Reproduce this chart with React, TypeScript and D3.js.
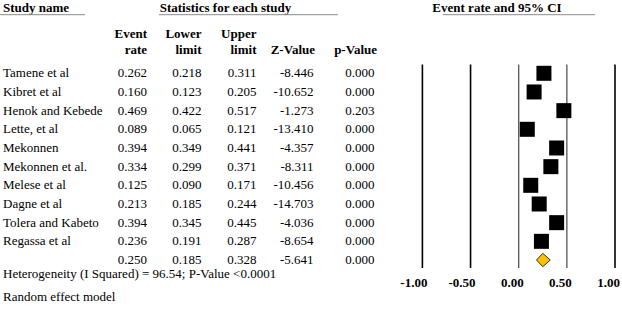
import React from "react";
import * as d3 from "d3";

const studies = [
  "Tamene et al",
  "Kibret et al",
  "Henok and Kebede",
  "Lette, et al",
  "Mekonnen",
  "Mekonnen et al.",
  "Melese et al",
  "Dagne et al",
  "Tolera and Kabeto",
  "Regassa et al",
];
const eventRate = [0.262, 0.16, 0.469, 0.089, 0.394, 0.334, 0.125, 0.213, 0.394, 0.236];
const lowerLimit = [0.218, 0.123, 0.422, 0.065, 0.349, 0.299, 0.09, 0.185, 0.345, 0.191];
const upperLimit = [0.311, 0.205, 0.517, 0.121, 0.441, 0.371, 0.171, 0.244, 0.445, 0.287];
const zValue = [-8.446, -10.652, -1.273, -13.41, -4.357, -8.311, -10.456, -14.703, -4.036, -8.654];
const pValue = [0.0, 0.0, 0.203, 0.0, 0.0, 0.0, 0.0, 0.0, 0.0, 0.0];

const summaryRate = 0.25;
const summaryLower = 0.185;
const summaryUpper = 0.328;
const summaryZ = -5.641;
const summaryP = 0.0;

const tickValues = [-1, -0.5, 0, 0.5, 1];
const heterogeneityText = "Heterogeneity (I Squared) = 96.54; P-Value <0.0001";
const modelText = "Random effect model";

const W = 622;
const H = 312;
const FONT = "Liberation Serif, Times New Roman, DejaVu Serif, serif";

const f3 = (v: number) => v.toFixed(3);
const f2 = (v: number) => v.toFixed(2);

export default function App() {
  const x = d3.scaleLinear().domain([-1, 1]).range([422.4, 615]);
  const rowY = d3.scaleLinear().domain([0, 1]).range([73.3, 73.3 + 18.67]);

  // column right edges
  const colRate = 147;
  const colLower = 201.5;
  const colUpper = 256.5;
  const colZ = 313.5;
  const colP = 374.5;

  const sq = 15;
  const nRows = studies.length;
  const sumY = rowY(nRows);

  const ts = { fontFamily: FONT, fontSize: "13px" };

  return (
    <svg
      width={W}
      height={H}
      style={{ position: "absolute", left: 0, top: 0, background: "#fff", fontFamily: FONT, fontSize: "13px" }}
    >
      {/* headers */}
      <g style={{ ...ts, fontWeight: "bold" }}>
        <text x={3} y={11.7}>Study name</text>
        <text x={225.5} y={11.7} textAnchor="middle">Statistics for each study</text>
        <text x={497} y={11.7} textAnchor="middle">Event rate and 95% CI</text>
      </g>
      <line x1={0} x2={85} y1={14.7} y2={14.7} stroke="#8c8c8c" strokeWidth={1} />
      <line x1={159} x2={338} y1={14.7} y2={14.7} stroke="#8c8c8c" strokeWidth={1} />
      <line x1={443} x2={595} y1={14.7} y2={14.7} stroke="#8c8c8c" strokeWidth={1} />

      <g style={{ ...ts, fontWeight: "bold" }} textAnchor="end">
        <text x={colRate} y={37.5}>Event</text>
        <text x={colRate} y={54}>rate</text>
        <text x={colLower} y={37.5}>Lower</text>
        <text x={colLower} y={54}>limit</text>
        <text x={colUpper} y={37.5}>Upper</text>
        <text x={colUpper} y={54}>limit</text>
        <text x={315} y={54}>Z-Value</text>
        <text x={377} y={54}>p-Value</text>
      </g>

      {/* rows */}
      {studies.map((s, i) => {
        const yb = rowY(i) + 4;
        return (
          <g key={s} style={ts}>
            <text x={3} y={yb}>{s}</text>
            <text x={colRate} y={yb} textAnchor="end">{f3(eventRate[i])}</text>
            <text x={colLower} y={yb} textAnchor="end">{f3(lowerLimit[i])}</text>
            <text x={colUpper} y={yb} textAnchor="end">{f3(upperLimit[i])}</text>
            <text x={colZ} y={yb} textAnchor="end">{f3(zValue[i])}</text>
            <text x={colP} y={yb} textAnchor="end">{f3(pValue[i])}</text>
          </g>
        );
      })}
      <g style={ts}>
        <text x={colRate} y={sumY + 4} textAnchor="end">{f3(summaryRate)}</text>
        <text x={colLower} y={sumY + 4} textAnchor="end">{f3(summaryLower)}</text>
        <text x={colUpper} y={sumY + 4} textAnchor="end">{f3(summaryUpper)}</text>
        <text x={colZ} y={sumY + 4} textAnchor="end">{f3(summaryZ)}</text>
        <text x={colP} y={sumY + 4} textAnchor="end">{f3(summaryP)}</text>
        <text x={3} y={277.5}>{heterogeneityText}</text>
        <text x={3} y={301}>{modelText}</text>
      </g>

      {/* reference lines */}
      {tickValues.map((t) => (
        <line
          key={"l" + t}
          x1={x(t)}
          x2={x(t)}
          y1={64.5}
          y2={268}
          stroke={t === 0 || t === 0.5 ? "#555" : "#000"}
          strokeWidth={t === 0 || t === 0.5 ? 1.3 : 1.6}
        />
      ))}
      <g style={{ ...ts, fontWeight: "bold" }} textAnchor="end">
        {tickValues.map((t) => (
          <text key={"t" + t} x={x(t) + 5} y={287}>
            {f2(t)}
          </text>
        ))}
      </g>

      {/* CI lines and squares */}
      {studies.map((s, i) => (
        <g key={"m" + s}>
          <line
            x1={x(lowerLimit[i])}
            x2={x(upperLimit[i])}
            y1={rowY(i)}
            y2={rowY(i)}
            stroke="#000"
            strokeWidth={1}
          />
          <rect
            x={x(eventRate[i]) - sq / 2}
            y={rowY(i) - sq / 2}
            width={sq}
            height={sq}
            fill="#000"
          />
        </g>
      ))}

      {/* summary diamond */}
      <polygon
        points={[
          [x(summaryLower), sumY],
          [x(summaryRate), sumY - 6.7],
          [x(summaryUpper), sumY],
          [x(summaryRate), sumY + 6.7],
        ]
          .map((p) => p.join(","))
          .join(" ")}
        fill="#FFC000"
        stroke="#333"
        strokeWidth={1}
      />
    </svg>
  );
}
